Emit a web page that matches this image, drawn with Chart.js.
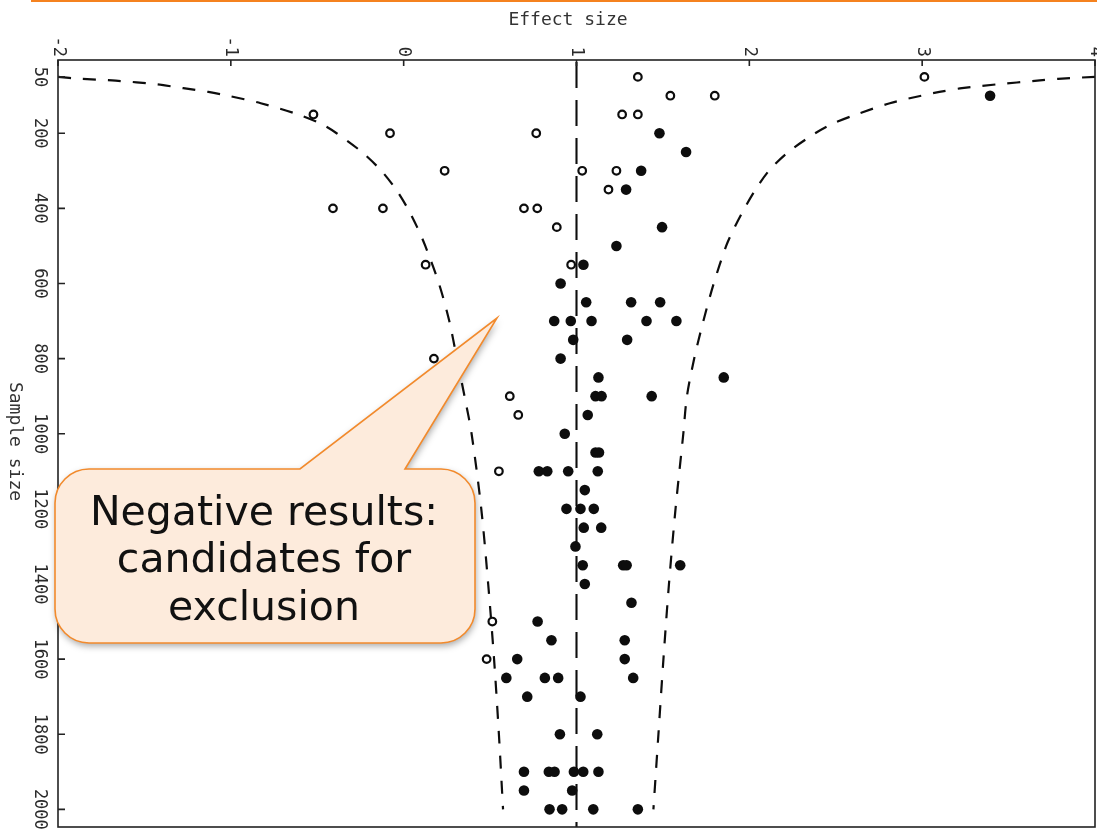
<!DOCTYPE html>
<html>
<head>
<meta charset="utf-8">
<script src="https://cdn.jsdelivr.net/npm/chart.js@4.4.1/dist/chart.umd.min.js"></script>
<style>
  html, body { margin: 0; padding: 0; background: #fff; }
  canvas { display: block; }
</style>
</head>
<body>
<canvas id="funnel" width="1097" height="832"></canvas>
<script>
// Studies flagged as negative results (open circles): sample size and effect size
const openN = [50, 50, 100, 100, 150, 150, 150, 200, 200, 300, 300, 300, 350,
  400, 400, 400, 400, 450, 550, 550, 800, 900, 950, 1100, 1500, 1600];
const openEffect = [1.355, 3.013, 1.543, 1.80, -0.522, 1.264, 1.355, -0.079, 0.767,
  0.237, 1.033, 1.231, 1.185, -0.409, -0.12, 0.696, 0.773, 0.886, 0.127, 0.969,
  0.175, 0.614, 0.663, 0.551, 0.513, 0.48];

// Remaining studies (filled circles)
const filledN = [100, 200, 250, 300, 350, 450, 500, 550, 600, 650, 650, 650,
  700, 700, 700, 700, 700, 750, 750, 800, 850, 850, 900, 900, 900, 950, 1000,
  1050, 1050, 1100, 1100, 1100, 1100, 1150, 1200, 1200, 1200, 1250, 1250, 1300,
  1350, 1350, 1350, 1350, 1400, 1450, 1500, 1550, 1550, 1600, 1600,
  1650, 1650, 1650, 1650, 1700, 1700, 1800, 1800,
  1900, 1900, 1900, 1900, 1900, 1900, 1950, 1950, 2000, 2000, 2000, 2000];
const filledEffect = [3.393, 1.48, 1.634, 1.374, 1.287, 1.495, 1.231, 1.04, 0.908,
  1.056, 1.316, 1.484, 0.871, 0.967, 1.087, 1.405, 1.578, 0.981, 1.293, 0.908,
  1.127, 1.852, 1.11, 1.145, 1.435, 1.065, 0.932, 1.11, 1.13, 0.782, 0.831, 0.952,
  1.123, 1.048, 0.942, 1.023, 1.10, 1.042, 1.143, 0.994, 1.036, 1.27, 1.29, 1.60,
  1.048, 1.318, 0.775, 0.855, 1.279, 0.657, 1.279, 0.594, 0.817, 0.894, 1.328,
  0.715, 1.023, 0.904, 1.12, 0.696, 0.84, 0.873, 0.985, 1.039, 1.127, 0.696, 0.975,
  0.844, 0.917, 1.097, 1.355];

// Funnel limits (dashed curves) by sample size
const funnelN = [50, 55, 60, 70, 80, 90, 100, 120, 150, 175, 200, 250, 300, 350,
  400, 450, 500, 600, 700, 800, 900, 1000, 1200, 1400, 1600, 1800, 2000];
const funnelLower = [-2.0, -1.87, -1.666, -1.425, -1.275, -1.13, -1.018, -0.827,
  -0.61, -0.478, -0.388, -0.242, -0.129, -0.044, 0.023, 0.078, 0.125, 0.204, 0.264,
  0.308, 0.352, 0.393, 0.449, 0.489, 0.523, 0.551, 0.575];
const funnelUpper = [4.0, 3.786, 3.666, 3.43, 3.23, 3.10, 2.995, 2.813, 2.619, 2.48,
  2.381, 2.225, 2.113, 2.036, 1.972, 1.915, 1.866, 1.794, 1.734, 1.681, 1.639,
  1.618, 1.573, 1.535, 1.503, 1.474, 1.445];

// Pooled effect (long-dashed vertical line)
const nullEffect = 1;

// Axes
const xTicks = [-2, -1, 0, 1, 2, 3, 4];
const yTicks = [50, 200, 400, 600, 800, 1000, 1200, 1400, 1600, 1800, 2000];
const xRange = [-2, 4];
const yRange = [5, 2047];
const xTitle = 'Effect size';
const yTitle = 'Sample size';
const calloutLines = ['Negative results:', 'candidates for', 'exclusion'];

const ink = '#0d0d0d';
const monoFont = '"DejaVu Sans Mono", monospace';

function toPoints(xs, ys) {
  return xs.map((v, i) => ({ x: v, y: ys[i] }));
}

// Frame, inward ticks, rotated tick labels, titles and the callout
const decor = {
  id: 'decor',
  afterDraw(chart) {
    const { ctx, chartArea: a, scales: { x, y } } = chart;
    ctx.save();

    // orange rule along the top edge of the page
    ctx.fillStyle = '#f5821f';
    ctx.fillRect(31, 0, chart.width - 31, 2);

    // plot frame
    ctx.strokeStyle = '#222';
    ctx.lineWidth = 1.6;
    ctx.strokeRect(a.left, a.top, a.right - a.left, a.bottom - a.top);

    // inward tick marks
    ctx.beginPath();
    xTicks.forEach(v => {
      const px = x.getPixelForValue(v);
      ctx.moveTo(px, a.top);
      ctx.lineTo(px, a.top + 6);
    });
    yTicks.forEach(v => {
      const py = y.getPixelForValue(v);
      ctx.moveTo(a.left, py);
      ctx.lineTo(a.left + 7, py);
    });
    ctx.stroke();

    // tick labels, turned a quarter clockwise
    ctx.fillStyle = '#2a2a2a';
    ctx.font = '17px ' + monoFont;
    xTicks.forEach(v => {
      ctx.save();
      ctx.translate(x.getPixelForValue(v), a.top - 3);
      ctx.rotate(Math.PI / 2);
      ctx.textAlign = 'right';
      ctx.textBaseline = 'middle';
      ctx.fillText(String(v), 0, 0);
      ctx.restore();
    });
    yTicks.forEach(v => {
      ctx.save();
      ctx.translate(a.left - 19, y.getPixelForValue(v));
      ctx.rotate(Math.PI / 2);
      ctx.textAlign = 'center';
      ctx.textBaseline = 'middle';
      ctx.fillText(String(v), 0, 0);
      ctx.restore();
    });

    // axis titles
    ctx.font = '18px ' + monoFont;
    ctx.fillStyle = '#333';
    ctx.textAlign = 'center';
    ctx.textBaseline = 'middle';
    ctx.fillText(xTitle, 568, 20);
    ctx.save();
    ctx.translate(15, (a.top + a.bottom) / 2 - 2);
    ctx.rotate(Math.PI / 2);
    ctx.fillText(yTitle, 0, 0);
    ctx.restore();

    // callout bubble
    const L = 55, T = 469, R = 475, B = 643, r = 34;
    const baseA = 300, baseB = 405, tipX = 497, tipY = 318;
    const bubble = () => {
      ctx.beginPath();
      ctx.moveTo(L + r, T);
      ctx.lineTo(baseA, T);
      ctx.lineTo(tipX, tipY);
      ctx.lineTo(baseB, T);
      ctx.lineTo(R - r, T);
      ctx.arcTo(R, T, R, T + r, r);
      ctx.lineTo(R, B - r);
      ctx.arcTo(R, B, R - r, B, r);
      ctx.lineTo(L + r, B);
      ctx.arcTo(L, B, L, B - r, r);
      ctx.lineTo(L, T + r);
      ctx.arcTo(L, T, L + r, T, r);
      ctx.closePath();
    };
    ctx.save();
    ctx.shadowColor = 'rgba(0,0,0,0.35)';
    ctx.shadowBlur = 7;
    ctx.shadowOffsetX = 1;
    ctx.shadowOffsetY = 3;
    bubble();
    ctx.fillStyle = '#fdebdc';
    ctx.fill();
    ctx.restore();
    bubble();
    ctx.strokeStyle = '#f28a2c';
    ctx.lineWidth = 1.6;
    ctx.stroke();

    ctx.fillStyle = '#111';
    ctx.font = '41px "DejaVu Sans", sans-serif';
    ctx.textAlign = 'center';
    ctx.textBaseline = 'alphabetic';
    const baselines = [525, 572, 620];
    calloutLines.forEach((t, i) => ctx.fillText(t, 264, baselines[i]));

    ctx.restore();
  }
};

new Chart(document.getElementById('funnel'), {
  type: 'scatter',
  data: {
    datasets: [
      {
        label: 'Negative results',
        data: toPoints(openEffect, openN),
        pointRadius: 3.8,
        pointBorderWidth: 2.2,
        pointBackgroundColor: '#fff',
        pointBorderColor: ink,
        showLine: false
      },
      {
        label: 'Other studies',
        data: toPoints(filledEffect, filledN),
        pointRadius: 5.3,
        pointBorderWidth: 0,
        pointBackgroundColor: ink,
        pointBorderColor: ink,
        showLine: false
      },
      {
        label: 'Lower limit',
        data: toPoints(funnelLower, funnelN),
        showLine: true,
        borderColor: ink,
        borderWidth: 2.2,
        borderDash: [13, 12],
        pointRadius: 0,
        tension: 0.3
      },
      {
        label: 'Upper limit',
        data: toPoints(funnelUpper, funnelN),
        showLine: true,
        borderColor: ink,
        borderWidth: 2.2,
        borderDash: [13, 12],
        pointRadius: 0,
        tension: 0.3
      },
      {
        label: 'Pooled effect',
        data: [{ x: nullEffect, y: yRange[0] }, { x: nullEffect, y: yRange[1] }],
        showLine: true,
        borderColor: ink,
        borderWidth: 2.1,
        borderDash: [26, 12],
        borderDashOffset: -2,
        pointRadius: 0
      }
    ]
  },
  options: {
    responsive: false,
    animation: false,
    events: [],
    layout: { autoPadding: false, padding: { left: 0, right: 2, top: 0, bottom: 5 } },
    plugins: { legend: { display: false }, tooltip: { enabled: false } },
    scales: {
      x: {
        type: 'linear',
        position: 'top',
        min: xRange[0],
        max: xRange[1],
        ticks: { display: false },
        grid: { display: false },
        border: { display: false },
        afterBuildTicks(s) { s.ticks = xTicks.map(v => ({ value: v })); },
        afterFit(s) { s.height = 60; }
      },
      y: {
        type: 'linear',
        reverse: true,
        min: yRange[0],
        max: yRange[1],
        ticks: { display: false },
        grid: { display: false },
        border: { display: false },
        afterBuildTicks(s) { s.ticks = yTicks.map(v => ({ value: v })); },
        afterFit(s) { s.width = 58; }
      }
    }
  },
  plugins: [decor]
});
</script>
</body>
</html>
